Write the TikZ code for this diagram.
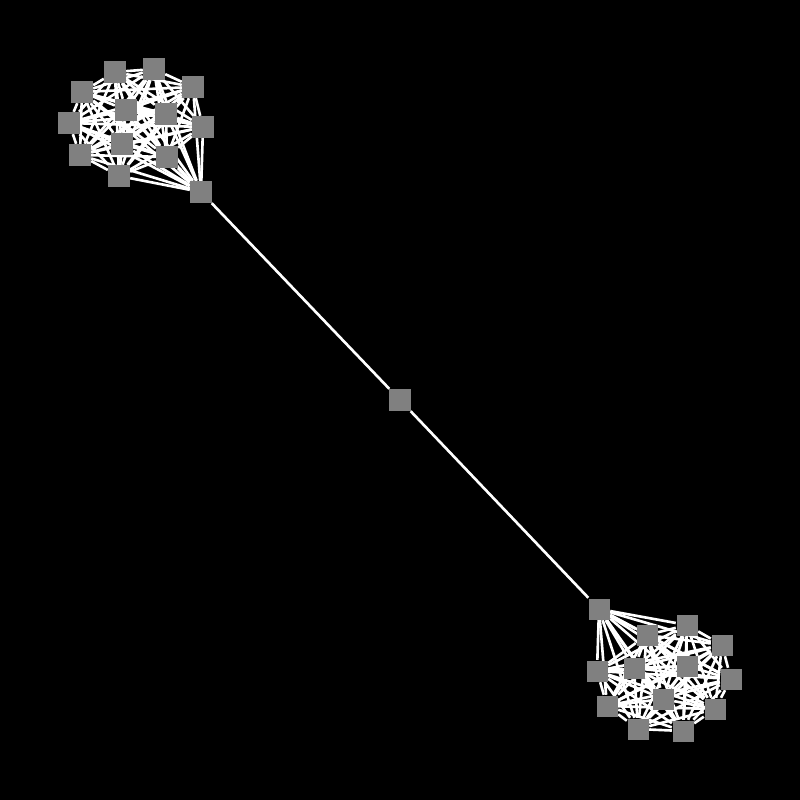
\documentclass[tikz,border=0pt]{standalone}
\usepackage{tikz}
\pgfdeclarelayer{canvas}
\pgfdeclarelayer{edges}
\pgfsetlayers{canvas,edges,main}

\begin{document}
\begin{tikzpicture}[x=0.01cm, y=-0.01cm,
        vertex/.style={rectangle, fill=gray, inner sep=0pt, minimum size=0.21cm},
        link/.style={white, line width=0.75pt}]
                \begin{pgfonlayer}{canvas}
                    \fill[black] (0,0) rectangle (800,800);
                \end{pgfonlayer}
                % left clique
                \node[vertex] (a1) at (115,72) {};
                \node[vertex] (a2) at (154,69) {};
                \node[vertex] (a3) at (193,87) {};
                \node[vertex] (a4) at (82,92) {};
                \node[vertex] (a5) at (126,110) {};
                \node[vertex] (a6) at (166,114) {};
                \node[vertex] (a7) at (69,123) {};
                \node[vertex] (a8) at (203,127) {};
                \node[vertex] (a9) at (122,144) {};
                \node[vertex] (a10) at (80,155) {};
                \node[vertex] (a11) at (167,157) {};
                \node[vertex] (a12) at (119,176) {};
                \node[vertex] (a13) at (201,192) {};
                % right clique
                \node[vertex] (b1) at (599,609) {};
                \node[vertex] (b2) at (687,625) {};
                \node[vertex] (b3) at (647,635) {};
                \node[vertex] (b4) at (722,645) {};
                \node[vertex] (b5) at (597,671) {};
                \node[vertex] (b6) at (634,668) {};
                \node[vertex] (b7) at (687,666) {};
                \node[vertex] (b8) at (731,679) {};
                \node[vertex] (b9) at (607,706) {};
                \node[vertex] (b10) at (663,699) {};
                \node[vertex] (b11) at (715,709) {};
                \node[vertex] (b12) at (638,729) {};
                \node[vertex] (b13) at (683,731) {};
                % bridge
                \node[vertex] (m) at (400,400) {};
                \begin{pgfonlayer}{edges}
                    \foreach \i in {1,...,12} {
                        \pgfmathtruncatemacro\k{\i+1}
                        \foreach \j in {\k,...,13} {
                            \draw[link] (a\i) -- (a\j);
                            \draw[link] (b\i) -- (b\j);
                        }
                    }
                    \draw[link] (a13) -- (m);
                    \draw[link] (m) -- (b1);
                \end{pgfonlayer}
            \end{tikzpicture}
\end{document}
